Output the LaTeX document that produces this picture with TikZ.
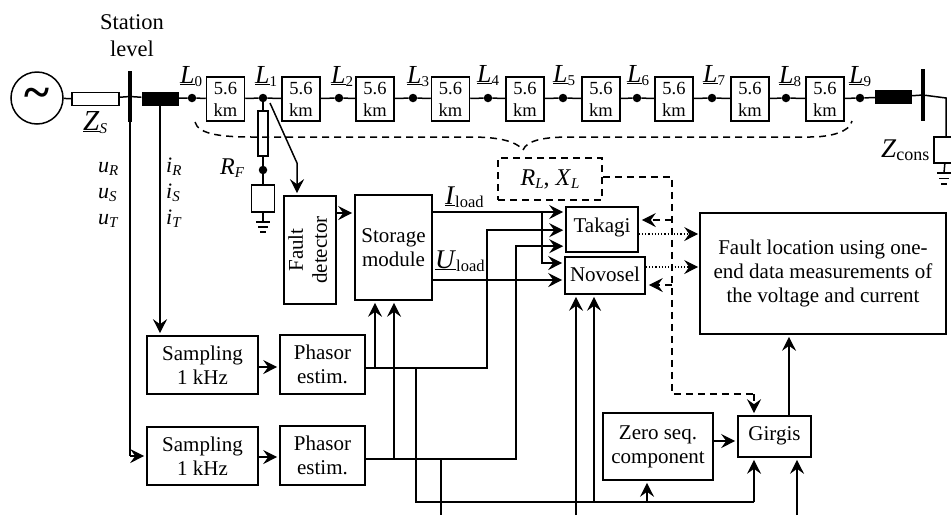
\documentclass[tikz,border=0pt]{standalone}
\usepackage{fontspec}
\setmainfont{Liberation Serif}
\usetikzlibrary{arrows.meta}
\newcommand{\sbs}[2][15]{\raisebox{-3pt}{\fontsize{#1}{#1}\selectfont #2}}
\newcommand{\uvar}[1]{\underline{\textit{#1}}}
\begin{document}
\begin{tikzpicture}[
    x=1pt, y=-1pt,
    >={Stealth[length=14pt,width=14pt,inset=5pt]},
    box/.style={draw, line width=1.6pt, fill=white, inner sep=0pt, align=center,
                font=\fontsize{21}{24}\selectfont},
    segbox/.style={draw, line width=1.5pt, fill=white, inner sep=0pt, align=center,
                minimum width=38pt, minimum height=44pt,
                font=\fontsize{18.5}{22}\selectfont},
    dot/.style={circle, fill=black, inner sep=0pt, minimum size=8.5pt},
    ctbox/.style={fill=black, inner sep=0pt, minimum width=37pt, minimum height=14pt},
    busbar/.style={fill=black, inner sep=0pt, minimum width=4pt},
    lab/.style={anchor=base west, inner sep=0pt, font=\fontsize{26}{28}\selectfont},
    sublab/.style={anchor=base west, inner sep=0pt, font=\fontsize{22}{24}\selectfont},
    line/.style={line width=1.5pt},
    arr/.style={line width=1.5pt, ->, shorten >=2pt},
    dashline/.style={line width=1.5pt, dash pattern=on 7pt off 5pt},
    dotline/.style={line width=1.2pt, dash pattern=on 1.2pt off 2pt}
  ]
  \clip (0,0) rectangle (951,515);

  \node[circle, draw, line width=1.5pt, fill=white, minimum size=52pt, inner sep=0pt,
        font=\fontsize{48}{48}\bfseries\selectfont] (source) at (37,98) {\textasciitilde};
  \node[box, minimum width=47pt, minimum height=13pt] (zs) at (95.5,99) {};
  \node[busbar, minimum height=51pt] (busa) at (130,96.5) {};
  \node[ctbox] (cta) at (160,98.5) {};
  \node[dot] (l0) at (192,98) {};
  \node[segbox] (sega) at (225.5,99) {5.6\\km};
  \node[dot] (l1) at (263,98) {};
  \node[segbox] (segb) at (301,99) {5.6\\km};
  \node[dot] (l2) at (339,98) {};
  \node[segbox] (segc) at (375,99) {5.6\\km};
  \node[dot] (l3) at (413,98) {};
  \node[segbox] (segd) at (450.5,99) {5.6\\km};
  \node[dot] (l4) at (488,98) {};
  \node[segbox] (sege) at (525,99) {5.6\\km};
  \node[dot] (l5) at (563,98) {};
  \node[segbox] (segf) at (601,99) {5.6\\km};
  \node[dot] (l6) at (637,98) {};
  \node[segbox] (segg) at (674,99) {5.6\\km};
  \node[dot] (l7) at (712,98) {};
  \node[segbox] (segh) at (750,99) {5.6\\km};
  \node[dot] (l8) at (786,98) {};
  \node[segbox] (segi) at (825,99) {5.6\\km};
  \node[dot] (l9) at (860,98) {};
  \node[ctbox] (ctb) at (893.5,97) {};
  \node[busbar, minimum height=52pt] (busb) at (923,95) {};
  \node[box, minimum width=24pt, minimum height=26pt] (zcons) at (946,150) {};
  \coordinate (zbend) at (946,98);

  \draw[line] (source) -- (zs) -- (busa) -- (cta) -- (l0) -- (sega) -- (l1) -- (segb) -- (l2)
    -- (segc) -- (l3) -- (segd) -- (l4) -- (sege) -- (l5) -- (segf) -- (l6) -- (segg) -- (l7)
    -- (segh) -- (l8) -- (segi) -- (l9) -- (ctb) -- (busb) -- (zbend) -- (zcons);

  \node[align=center, inner sep=0pt, font=\fontsize{22.5}{27}\selectfont] (station) at (132,36) {Station\\level};
  \node[lab] (l0lab) at (180,83) {\uvar{L}\sbs{0}};
  \node[lab] (l1lab) at (255,83) {\uvar{L}\sbs{1}};
  \node[lab] (l2lab) at (331,83) {\uvar{L}\sbs{2}};
  \node[lab] (l3lab) at (407,83) {\uvar{L}\sbs{3}};
  \node[lab] (l4lab) at (477,82) {\uvar{L}\sbs{4}};
  \node[lab] (l5lab) at (553,82) {\uvar{L}\sbs{5}};
  \node[lab] (l6lab) at (627,82) {\uvar{L}\sbs{6}};
  \node[lab] (l7lab) at (703,82) {\uvar{L}\sbs{7}};
  \node[lab] (l8lab) at (779,83) {\uvar{L}\sbs{8}};
  \node[lab] (l9lab) at (849,83) {\uvar{L}\sbs{9}};
  \node[lab, font=\fontsize{29}{30}\selectfont] (zslab) at (83,130) {\uvar{Z}\sbs{\textit{S}}};
  \node[lab, font=\fontsize{27}{28}\selectfont] (zconslab) at (881,157) {\textit{Z}\sbs[18]{cons}};
  \node[sublab] (ur) at (98,172) {\textit{u}\sbs{\textit{R}}};
  \node[sublab] (us) at (98,198) {\textit{u}\sbs{\textit{S}}};
  \node[sublab] (ut) at (98,224) {\textit{u}\sbs{\textit{T}}};
  \node[sublab] (ir) at (166,172) {\textit{i}\sbs{\textit{R}}};
  \node[sublab] (is) at (166,198) {\textit{i}\sbs{\textit{S}}};
  \node[sublab] (it) at (166,224) {\textit{i}\sbs{\textit{T}}};
  \node[lab, font=\fontsize{24}{26}\selectfont] (rflab) at (220,174) {\textit{R}\sbs{\textit{F}}};
  \node[lab, font=\fontsize{27}{28}\selectfont] (iload) at (445,204) {\uvar{I}\sbs[16.5]{load}};
  \node[lab, font=\fontsize{27}{28}\selectfont] (uload) at (435,268) {\uvar{U}\sbs[16.5]{load}};

  \node[box, minimum width=10pt, minimum height=45pt] (rf) at (263,133.5) {};
  \node[dot] (rfdot) at (263,170) {};
  \node[box, minimum width=23pt, minimum height=27pt] (rfbox) at (263,198.5) {};
  \draw[line] (l1) -- (rf) -- (rfdot) -- (rfbox);
  \coordinate (gnda) at (263,222);
  \draw[line] (rfbox) -- (gnda);
  \draw[line] (gnda)+(-7,0) -- +(7,0);
  \draw[line] (gnda)+(-5,5) -- +(5,5);
  \draw[line] (gnda)+(-3,10) -- +(3,10);
  \coordinate (gndb) at (944,173);
  \draw[line] (zcons) -- (gndb);
  \draw[line] (gndb)+(-7,0) -- +(7,0);
  \draw[line] (gndb)+(-5,5.5) -- +(5,5.5);
  \draw[line] (gndb)+(-3,11) -- +(3,11);

  \node[box, minimum width=52pt, minimum height=108pt] (fault) at (310,250)
    {\rotatebox{90}{\begin{tabular}{@{}c@{}}Fault\\detector\end{tabular}}};
  \node[box, minimum width=77pt, minimum height=105pt] (storage) at (393.5,247.5) {Storage\\module};
  \node[draw, dashline, minimum width=104pt, minimum height=42pt, inner sep=0pt,
        font=\fontsize{24}{26}\selectfont] (rlxl) at (550,179) {\textit{R}\sbs{\textit{L}}, \textit{X}\sbs{\textit{L}}};
  \node[box, minimum width=72pt, minimum height=45pt] (takagi) at (602,229.5) {\raisebox{8pt}{Takagi}};
  \node[box, minimum width=80pt, minimum height=37pt] (novosel) at (605,275.5) {\raisebox{2pt}{Novosel}};
  \node[box, minimum width=246pt, minimum height=121pt] (location) at (823,273.5)
    {\raisebox{2pt}{\begin{tabular}{@{}c@{}}Fault location using one-\\end data measurements of\\the voltage and current\end{tabular}}};
  \node[box, minimum width=111pt, minimum height=58pt] (sama) at (202.5,365) {Sampling\\1 kHz};
  \node[box, minimum width=85pt, minimum height=59pt] (phaa) at (322.5,364.5) {Phasor\\estim.};
  \node[box, minimum width=111pt, minimum height=58pt] (samb) at (202.5,456) {Sampling\\1 kHz};
  \node[box, minimum width=85pt, minimum height=59pt] (phab) at (322.5,455.5) {Phasor\\estim.};
  \node[box, minimum width=110pt, minimum height=67pt] (zero) at (658,446.5)
    {\raisebox{7pt}{\begin{tabular}{@{}c@{}}Zero seq.\\component\end{tabular}}};
  \node[box, minimum width=73pt, minimum height=41pt] (girgis) at (774.5,436.5) {\raisebox{6pt}{Girgis}};

  \coordinate (ftap) at (270,103);
  \coordinate (fbend) at (297,163);
  \draw[arr] (ftap) -- (fbend) -- (fbend |- fault.north);
  \draw[arr] (fault.east |- 0,213) -- (storage.west |- 0,213);

  \coordinate (tee) at (542,212);
  \draw[arr] (storage.east |- tee) -- (takagi.west |- tee);
  \coordinate (tiin) at (542,263);
  \draw[arr] (tee) -- (tiin) -- (novosel.west |- tiin);
  \draw[arr] (storage.east |- 0,280) -- (novosel.west |- 0,280);

  \coordinate (upa) at (487,368);
  \coordinate (upb) at (516,459);
  \draw[arr] (phaa.east |- upa) -- (upa) |- ([yshift=-24pt]takagi.north west);
  \draw[arr] (phab.east |- upb) -- (upb) |- ([yshift=-40pt]takagi.north west);

  \draw[arr] (sama.east |- 0,367) -- (phaa.west |- 0,367);
  \draw[arr] (samb.east |- 0,457) -- (phab.west |- 0,457);

  \coordinate (stoa) at (375,368);
  \coordinate (stob) at (394,459);
  \draw[arr] (stoa) -- (stoa |- storage.south);
  \draw[arr] (stob) -- (stob |- storage.south);

  \coordinate (uend) at (130,456);
  \coordinate (iend) at (160,105);
  \draw[line] (busa) -- (uend);
  \draw[arr] (uend) -- (uend -| samb.west);
  \draw[arr] (iend) -- (iend |- sama.north);

  \coordinate (taph) at (416,368);
  \coordinate (lowa) at (416,502);
  \coordinate (taphb) at (441,459);
  \coordinate (lowb) at (441,515);
  \coordinate (girin) at (754,502);
  \coordinate (novb) at (594,502);
  \coordinate (nova) at (576,515);
  \coordinate (zeroin) at (647,502);
  \coordinate (girb) at (797,515);
  \draw[line] (taph) -- (lowa) -- (girin);
  \draw[line] (taphb) -- (lowb);
  \draw[arr] (girin) -- (girin |- girgis.south);
  \draw[arr] (zeroin) -- (zeroin |- zero.south);
  \draw[arr] (novb) -- (novb |- novosel.south);
  \draw[arr] (nova) -- (nova |- novosel.south);
  \draw[arr] (girb) -- (girb |- girgis.south);
  \draw[arr] (zero.east |- 0,441) -- (girgis.west |- 0,441);
  \draw[arr] (girgis.north -| 789,0) -- (location.south -| 789,0);

  \coordinate (dsa) at (195,122);
  \coordinate (dsb) at (852,121);
  \coordinate (dpeak) at (523,150);
  \draw[dashline] (dsa) .. controls (198,135) and (225,137) .. (252,137) -- (470,137)
    .. controls (495,137) and (515,140) .. (dpeak);
  \draw[dashline] (dpeak) .. controls (527,140) and (545,137) .. (570,137) -- (810,137)
    .. controls (830,137) and (850,132) .. (dsb);

  \coordinate (dtop) at (672,177);
  \coordinate (dlow) at (672,394);
  \coordinate (dgir) at (754,394);
  \draw[dashline] (rlxl.east |- dtop) -- (dtop) -- (dlow) -- (dgir);
  \draw[dashline, ->, shorten >=2pt] (dgir) -- (dgir |- girgis.north);
  \draw[dashline, ->, shorten >=3pt] (672,220) -- (takagi.east |- 0,220);
  \draw[dashline, ->, shorten >=3pt] (672,285) -- (novosel.east |- 0,285);

  \draw[dotline, ->, shorten >=1pt] (takagi.east |- 0,234) -- (location.west |- 0,234);
  \draw[dotline, ->, shorten >=1pt] (novosel.east |- 0,267) -- (location.west |- 0,267);
\end{tikzpicture}
\end{document}
